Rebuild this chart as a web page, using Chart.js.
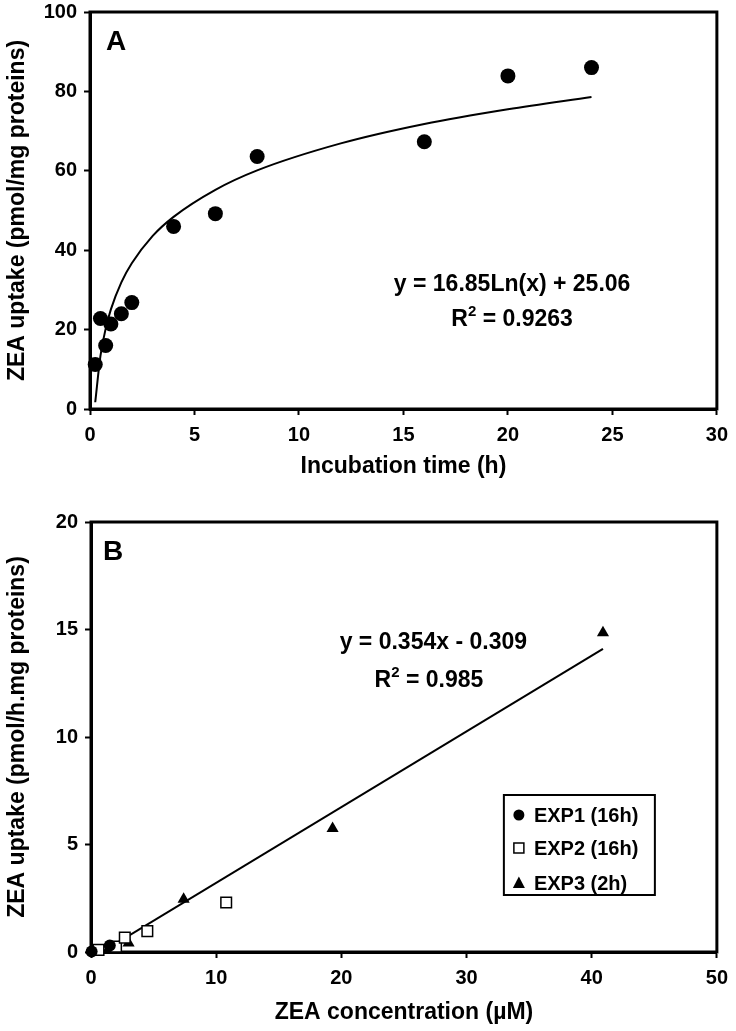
<!DOCTYPE html>
<html>
<head>
<meta charset="utf-8">
<script src="https://cdn.jsdelivr.net/npm/chart.js@4.4.0/dist/chart.umd.min.js"></script>
<style>
  body { margin: 0; background: #fff; }
  .wrap { position: absolute; left: 0; width: 736px; }
  #wrapA { top: -7px; height: 497px; }
  #wrapB { top: 490px; height: 541px; }
</style>
</head>
<body>
<div class="wrap" id="wrapA"><canvas id="chartA" width="736" height="497"></canvas></div>
<div class="wrap" id="wrapB"><canvas id="chartB" width="736" height="541"></canvas></div>
<script>
// panel A - uptake vs time
const timeH = [0.25, 0.5, 0.75, 1, 1.5, 2, 4, 6, 8, 16, 20, 24];
const uptakeA = [11.2, 22.8, 16.0, 21.4, 24.0, 26.8, 46.0, 49.2, 63.6, 67.3, 83.9, 86.0];
const trendAX = [0.25, 0.5, 0.75, 1, 1.5, 2, 3, 4, 6, 8, 12, 16, 20, 24];
const trendAY = [1.7, 13.4, 20.2, 25.1, 31.9, 36.7, 43.6, 48.4, 55.2, 60.1, 66.9, 71.8, 75.5, 78.6];
const xTicksA = [0, 5, 10, 15, 20, 25, 30];
const yTicksA = [0, 20, 40, 60, 80, 100];

// panel B - uptake vs concentration
const exp1X = [0.05, 1.5];
const exp1Y = [0.02, 0.3];
const exp2X = [0.6, 2.0, 2.7, 4.5, 10.8];
const exp2Y = [0.1, 0.25, 0.67, 0.97, 2.3];
const exp3X = [0.3, 1.4, 3.0, 7.4, 19.3, 40.9];
const exp3Y = [0.05, 0.12, 0.42, 2.45, 5.75, 14.85];
const fitBX = [0.3, 40.9];
const fitBY = [-0.2, 14.1];
const xTicksB = [0, 10, 20, 30, 40, 50];
const yTicksB = [0, 5, 10, 15, 20];

const FONT = "'Liberation Sans', Arial, sans-serif";
const pts = (xs, ys) => xs.map((x, i) => ({ x, y: ys[i] }));

function axis(ticks, title, isX, fitSize, titlePad) {
  return {
    type: 'linear',
    min: ticks[0],
    max: ticks[ticks.length - 1],
    afterBuildTicks: s => { s.ticks = ticks.map(v => ({ value: v })); },
    afterFit: s => { if (isX) s.height = fitSize; else s.width = fitSize; },
    ticks: { color: '#000', font: { family: FONT, size: 20, weight: 'bold' }, padding: isX ? 8 : 7, maxRotation: 0 },
    grid: { display: true, drawOnChartArea: false, drawTicks: true, tickLength: 6, tickColor: '#000', tickWidth: 2 },
    border: { display: true, color: '#000', width: 3 },
    title: { display: true, text: title, color: '#000', font: { family: FONT, size: 23, weight: 'bold' }, padding: titlePad }
  };
}

function drawEq(ctx, x, y, parts) {
  // parts: [text, isSuper]
  const big = 'bold 23px ' + FONT, small = 'bold 15px ' + FONT;
  let w = 0;
  parts.forEach(p => { ctx.font = p[1] ? small : big; w += ctx.measureText(p[0]).width; });
  let cx = x - w / 2;
  ctx.textAlign = 'left';
  ctx.textBaseline = 'middle';
  parts.forEach(p => {
    ctx.font = p[1] ? small : big;
    ctx.fillText(p[0], cx, p[1] ? y - 8 : y);
    cx += ctx.measureText(p[0]).width;
  });
}

const framePlugin = {
  id: 'frame',
  beforeDatasetsDraw(chart) {
    const { ctx, chartArea: a } = chart;
    ctx.save();
    ctx.strokeStyle = '#000';
    ctx.lineWidth = 3;
    ctx.strokeRect(a.left, a.top, a.right - a.left, a.bottom - a.top);
    ctx.restore();
  },
  afterDatasetsDraw(chart, args, opts) {
    const { ctx, chartArea: a, scales } = chart;
    ctx.save();
    ctx.strokeStyle = '#000';
    ctx.fillStyle = '#000';
    ctx.font = 'bold 28px ' + FONT;
    ctx.textAlign = 'left';
    ctx.textBaseline = 'middle';
    ctx.fillText(opts.letter, a.left + opts.letterDx, a.top + 30);
    opts.eq.forEach(e => {
      drawEq(ctx, scales.x.getPixelForValue(e.x), scales.y.getPixelForValue(e.y), e.parts);
    });
    if (opts.legend) {
      const w = 151, h = 100;
      const lx = a.right - 62 - w, ly = a.bottom - 57 - h;
      ctx.lineWidth = 2;
      ctx.strokeRect(lx, ly, w, h);
      const rows = [20, 53, 88];
      chart.data.datasets.filter(d => d.inLegend).forEach((d, i) => {
        const mx = lx + 15, my = ly + rows[i];
        ctx.beginPath();
        if (d.pointStyle === 'circle') {
          ctx.arc(mx, my, 5.5, 0, Math.PI * 2);
          ctx.fill();
        } else if (d.pointStyle === 'rect') {
          ctx.lineWidth = 1.5;
          ctx.strokeRect(mx - 5, my - 5, 10, 10);
        } else {
          ctx.moveTo(mx, my - 6.5);
          ctx.lineTo(mx + 6, my + 5);
          ctx.lineTo(mx - 6, my + 5);
          ctx.closePath();
          ctx.fill();
        }
        ctx.font = 'bold 20px ' + FONT;
        ctx.fillText(d.label, lx + 30, my + 1);
      });
    }
    ctx.restore();
  }
};

new Chart(document.getElementById('chartA'), {
  type: 'scatter',
  data: {
    datasets: [
      { label: 'data', data: pts(timeH, uptakeA), pointStyle: 'circle', pointRadius: 7.5, clip: false,
        backgroundColor: '#000', borderColor: '#000', borderWidth: 0 },
      { label: 'fit', data: pts(trendAX, trendAY), showLine: true, pointRadius: 0,
        borderColor: '#000', borderWidth: 2, cubicInterpolationMode: 'monotone', fill: false }
    ]
  },
  options: {
    responsive: false,
    animation: false,
    layout: { padding: { top: 14, right: 17, left: 0, bottom: 0 } },
    plugins: {
      legend: { display: false },
      tooltip: { enabled: false },
      frame: {
        letter: 'A', letterDx: 16,
        eq: [
          { x: 20.2, y: 31.2, parts: [['y = 16.85Ln(x) + 25.06', false]] },
          { x: 20.2, y: 22.5, parts: [['R', false], ['2', true], [' = 0.9263', false]] }
        ]
      }
    },
    scales: {
      x: axis(xTicksA, 'Incubation time (h)', true, 81, { top: 0, bottom: 10 }),
      y: axis(yTicksA, 'ZEA uptake (pmol/mg proteins)', false, 90, { top: 4, bottom: 0 })
    }
  },
  plugins: [framePlugin]
});

new Chart(document.getElementById('chartB'), {
  type: 'scatter',
  data: {
    datasets: [
      { label: 'EXP1 (16h)', inLegend: true, data: pts(exp1X, exp1Y), pointStyle: 'circle', pointRadius: 6, clip: false,
        backgroundColor: '#000', borderColor: '#000', borderWidth: 0 },
      { label: 'EXP2 (16h)', inLegend: true, data: pts(exp2X, exp2Y), pointStyle: 'rect', pointRadius: 7.5, clip: false,
        backgroundColor: '#fff', borderColor: '#000', borderWidth: 1.5 },
      { label: 'EXP3 (2h)', inLegend: true, data: pts(exp3X, exp3Y), pointStyle: 'triangle', pointRadius: 7, clip: false,
        backgroundColor: '#000', borderColor: '#000', borderWidth: 0 },
      { label: 'fit', data: pts(fitBX, fitBY), showLine: true, pointRadius: 0,
        borderColor: '#000', borderWidth: 2, fill: false }
    ]
  },
  options: {
    responsive: false,
    animation: false,
    layout: { padding: { top: 32, right: 16, left: 0, bottom: 0 } },
    plugins: {
      legend: { display: false },
      tooltip: { enabled: false },
      frame: {
        letter: 'B', letterDx: 12, legend: true,
        eq: [
          { x: 27.35, y: 14.4, parts: [['y = 0.354x - 0.309', false]] },
          { x: 27.0, y: 12.6, parts: [['R', false], ['2', true], [' = 0.985', false]] }
        ]
      }
    },
    scales: {
      x: axis(xTicksB, 'ZEA concentration (\u00b5M)', true, 79, { top: 0, bottom: 5 }),
      y: axis(yTicksB, 'ZEA uptake (pmol/h.mg proteins)', false, 91, { top: 4, bottom: 0 })
    }
  },
  plugins: [framePlugin]
});
</script>
</body>
</html>
